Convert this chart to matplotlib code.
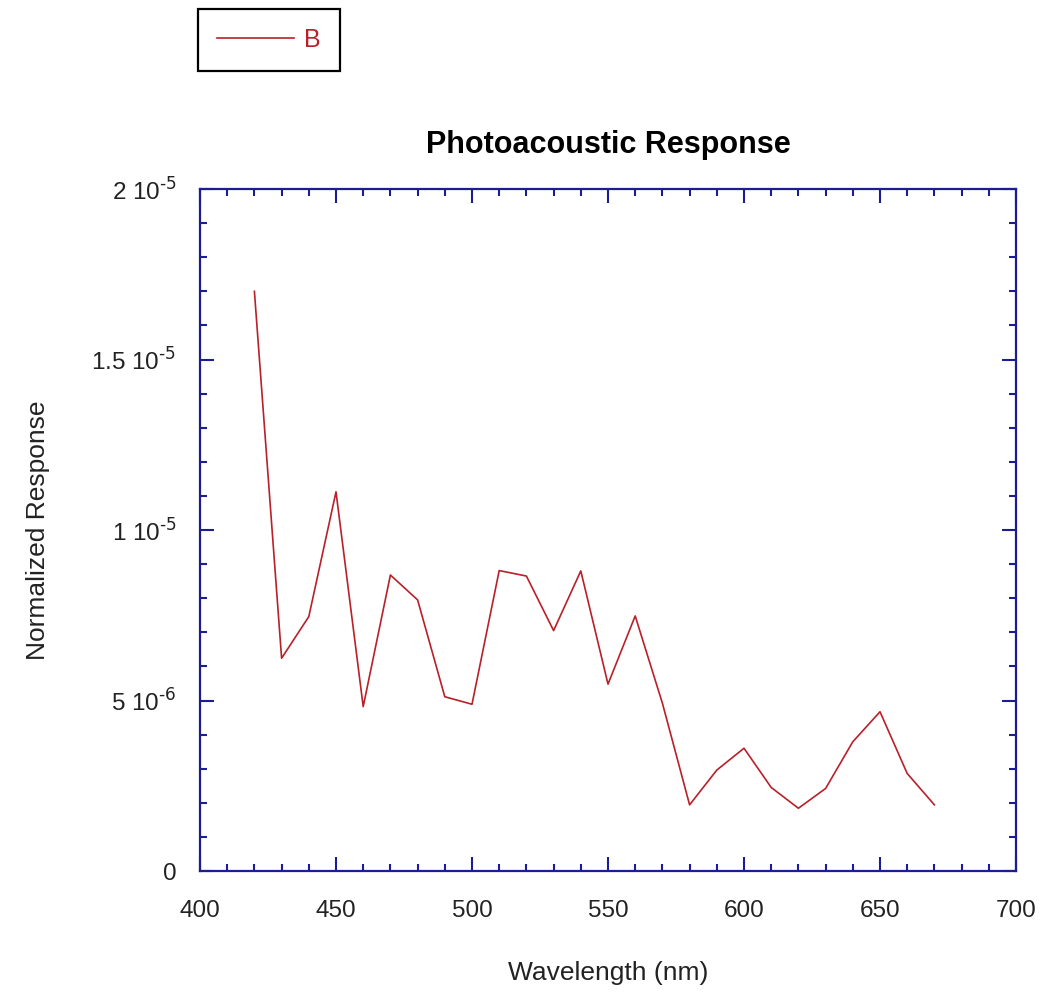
import matplotlib
matplotlib.use("Agg")
from matplotlib import pyplot as plt
from matplotlib.ticker import MultipleLocator, FixedLocator, FixedFormatter

plt.rcParams['font.family'] = ['Liberation Sans', 'DejaVu Sans']

# photoacoustic scan, normalized response per wavelength step
wavelength = [420, 430, 440, 450, 460, 470, 480, 490, 500, 510, 520, 530, 540,
              550, 560, 570, 580, 590, 600, 610, 620, 630, 640, 650, 660, 670]
response = [17.0e-6, 6.24e-6, 7.46e-6, 11.12e-6, 4.82e-6, 8.68e-6, 7.95e-6,
            5.11e-6, 4.89e-6, 8.81e-6, 8.65e-6, 7.05e-6, 8.8e-6, 5.48e-6,
            7.48e-6, 4.92e-6, 1.94e-6, 2.96e-6, 3.6e-6, 2.45e-6, 1.84e-6,
            2.42e-6, 3.79e-6, 4.67e-6, 2.86e-6, 1.94e-6]

y_ticks = [0, 5e-6, 1e-5, 1.5e-5, 2e-5]
y_labels = ['0', r'5 10$^{\text{-}6}$', r'1 10$^{\text{-}5}$',
            r'1.5 10$^{\text{-}5}$', r'2 10$^{\text{-}5}$']

line_col = '#b8202a'
axis_col = '#1c1c94'

fig = plt.figure(figsize=(10.49, 9.94), dpi=100)
ax = fig.add_axes([200 / 1049, 1 - 871 / 994, 816 / 1049, 682 / 994])

ln, = ax.plot(wavelength, response, color=line_col, lw=1.2, label='B')

ax.set_xlim(400, 700)
ax.set_ylim(0, 2e-5)
ax.xaxis.set_major_locator(MultipleLocator(50))
ax.xaxis.set_minor_locator(MultipleLocator(10))
ax.yaxis.set_major_locator(FixedLocator(y_ticks))
ax.yaxis.set_major_formatter(FixedFormatter(y_labels))
ax.yaxis.set_minor_locator(MultipleLocator(1e-6))

for s in ax.spines.values():
    s.set_color(axis_col)
    s.set_linewidth(1.6)
ax.tick_params(which='both', direction='in', top=True, right=True,
               color=axis_col, width=1.5, labelsize=17.5, labelcolor='#222222')
ax.tick_params(which='major', length=10)
ax.tick_params(which='minor', length=5)
ax.tick_params(axis='x', pad=21)
ax.tick_params(axis='y', pad=17)

ax.set_xlabel('Wavelength (nm)', fontsize=19, color='#222222', labelpad=28)
ax.set_ylabel('Normalized Response', fontsize=19, color='#222222', labelpad=30)
ax.set_title('Photoacoustic Response', fontsize=22, fontweight='bold', pad=26)

leg = fig.legend(handles=[ln], loc='upper left',
                 bbox_to_anchor=(198 / 1049, 1 - 9 / 994), fontsize=18,
                 labelcolor='linecolor', fancybox=False, edgecolor='black',
                 framealpha=1, handlelength=3.1, borderpad=0.75,
                 borderaxespad=0, handletextpad=0.4)
leg.get_frame().set_linewidth(1.6)

fig.savefig('out.png', dpi=100)
